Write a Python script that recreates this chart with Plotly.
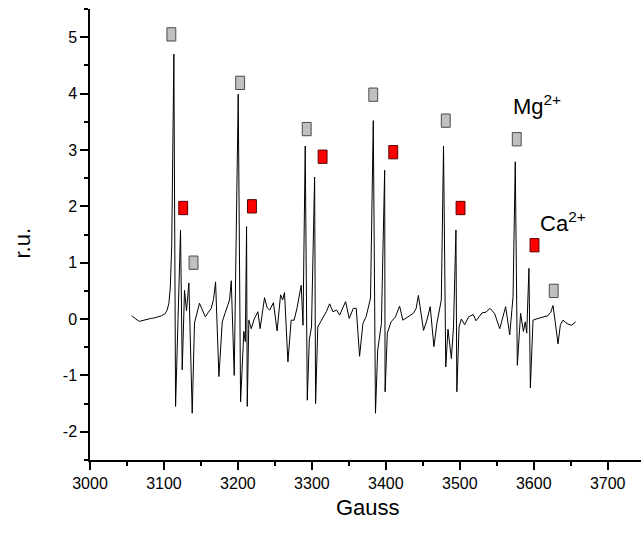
import plotly.graph_objects as go

# EPR spectrum trace (Gauss, r.u.)
gauss = [3056.5, 3060, 3064, 3067, 3072, 3077, 3082, 3087, 3092, 3097, 3101, 3104, 3106.6, 3108.5, 3110.5,
         3113.4, 3115.7, 3122.4, 3124.7, 3127.8, 3130.5, 3133.7, 3138.2, 3141.3, 3148, 3156, 3160, 3164, 3167,
         3169.8, 3174.3, 3178.8, 3183, 3188.7, 3191, 3195, 3200.4, 3203.6, 3208, 3210, 3211.7, 3212.6, 3214.8,
         3218, 3222, 3227, 3230, 3236, 3239.5, 3243, 3248, 3253, 3257.7, 3260.5, 3263, 3267.6, 3272, 3276, 3280,
         3285.6, 3288, 3291, 3293.8, 3296.5, 3299.5, 3303.7, 3305, 3308, 3313, 3319.5, 3324, 3328.5, 3333.5,
         3337.5, 3345.6, 3350.5, 3356, 3360, 3364.5, 3369, 3373.5, 3379.3, 3383, 3386, 3389, 3394, 3398.4, 3399,
         3402, 3407, 3413, 3418.6, 3423, 3430, 3437, 3441, 3444, 3451, 3455.5, 3460, 3465, 3469, 3475, 3478,
         3481, 3484, 3488.6, 3491.5, 3494.8, 3496, 3499, 3502, 3506.6, 3512, 3518, 3522, 3530, 3535, 3541, 3547,
         3554, 3562, 3567.5, 3572, 3575, 3577.8, 3582.2, 3586, 3588.5, 3590.5, 3593.5, 3595.4, 3599, 3603, 3608,
         3614, 3619, 3623, 3626, 3629, 3632.8, 3636, 3639.5, 3645, 3651, 3656.7]
signal = [0.06, 0.02, -0.02, -0.04, -0.02, -0.01, 0.01, 0.02, 0.04, 0.06, 0.09, 0.15, 0.27, 0.55, 1.3,
          4.70, -1.55, 1.58, -0.90, 0.51, 0.15, 0.64, -1.67, -0.07, 0.28, 0.04, 0.12, 0.19, 0.35,
          0.66, -1.02, -0.05, 0.12, 0.34, 0.68, -1.0, 3.99, -1.47, -0.22, -0.40, 1.64, -1.55, -0.02,
          -0.17, 0.0, 0.13, -0.17, 0.38, 0.20, 0.16, 0.29, -0.21, 0.43, 0.34, 0.47, -0.76, -0.02, -0.02, 0.2,
          0.60, -0.11, 3.07, -1.44, -0.37, -0.14, 2.52, -1.50, -0.14, -0.02, 0.13, 0.27, 0.13, 0.16,
          0.07, 0.31, 0.01, 0.19, 0.19, -0.66, -0.08, 0.05, 0.37, 3.52, -1.67, -0.55, -0.08, 2.64, -1.29,
          -0.25, -0.05, 0.04, 0.23, -0.02, 0.04, 0.10, 0.19, 0.42, -0.20, -0.02, 0.22, -0.49, -0.08, 0.34, 3.07,
          -0.85, -0.18, -0.70, -0.14, 1.58, -1.29, -0.14, 0.0, -0.1, 0.04, 0.08, -0.03, 0.11, 0.12, 0.19, 0.10,
          -0.17, 0.22, -0.28, 0.40, 2.79, -0.82, 0.10, -0.22, -0.05, -0.25, 0.90, -1.22, -0.02, 0.0, 0.02,
          0.04, 0.06, 0.12, 0.24, -0.05, -0.44, -0.1, -0.02, -0.08, -0.11, -0.05]

# Mg2+ (grey) and Ca2+ (red) line markers
mg_x = [3110, 3140, 3203, 3293, 3383, 3481, 3577, 3627]
mg_y = [5.05, 1.00, 4.19, 3.37, 3.98, 3.52, 3.19, 0.50]
ca_x = [3126, 3219, 3314.5, 3410, 3501, 3601]
ca_y = [1.97, 2.00, 2.88, 2.96, 1.97, 1.31]

x_ticks = [3000, 3100, 3200, 3300, 3400, 3500, 3600, 3700]
y_ticks = [-2, -1, 0, 1, 2, 3, 4, 5]

fig = go.Figure()
fig.add_trace(go.Scatter(x=gauss, y=signal, mode="lines",
                         line=dict(color="black", width=1), showlegend=False, hoverinfo="skip"))

HW, HH = 6.0, 0.118
shapes = []
for xx, yy in zip(mg_x, mg_y):
    shapes.append(dict(type="rect", xref="x", yref="y", x0=xx - HW, x1=xx + HW, y0=yy - HH, y1=yy + HH,
                       fillcolor="#c0c0c0", line=dict(color="#4a4a4a", width=1)))
for xx, yy in zip(ca_x, ca_y):
    shapes.append(dict(type="rect", xref="x", yref="y", x0=xx - HW, x1=xx + HW, y0=yy - HH, y1=yy + HH,
                       fillcolor="#ff0000", line=dict(color="#5a0000", width=1)))

font = "Arial, Liberation Sans, sans-serif"
axis_common = dict(showline=True, linecolor="black", linewidth=1.5, ticks="outside", ticklen=8,
                   tickwidth=1.5, tickcolor="black", showgrid=False, zeroline=False,
                   tickfont=dict(family=font, size=16, color="black"), mirror=False)

fig.update_layout(
    width=641, height=533,
    margin=dict(l=90, r=0, t=9, b=73),
    paper_bgcolor="white", plot_bgcolor="white",
    shapes=shapes,
    xaxis=dict(range=[3000, 3745], tickvals=x_ticks, ticktext=[str(v) for v in x_ticks],
               minor=dict(dtick=50, tick0=3000, ticklen=4, tickwidth=1.5, tickcolor="black", ticks="outside"),
               **axis_common),
    yaxis=dict(range=[-2.5, 5.5], tickvals=y_ticks, ticktext=[str(v) for v in y_ticks],
               minor=dict(dtick=0.5, tick0=0, ticklen=4, tickwidth=1.5, tickcolor="black", ticks="outside"),
               **axis_common),
    annotations=[
        dict(text="Gauss", xref="paper", yref="paper", x=0.504, y=-0.106, showarrow=False,
             font=dict(family=font, size=22, color="black"), xanchor="center", yanchor="middle"),
        dict(text="r.u.", xref="paper", yref="paper", x=-0.1226, y=0.481, showarrow=False, textangle=-90,
             font=dict(family=font, size=22, color="black"), xanchor="center", yanchor="middle"),
        dict(text="Mg<sup>2+</sup>", xref="x", yref="y", x=3569.7, y=3.79, showarrow=False,
             font=dict(family=font, size=22, color="black"), xanchor="left", yanchor="middle"),
        dict(text="Ca<sup>2+</sup>", xref="x", yref="y", x=3605.7, y=1.72, showarrow=False,
             font=dict(family=font, size=22, color="black"), xanchor="left", yanchor="middle"),
    ],
)

fig.write_html("out.html")
